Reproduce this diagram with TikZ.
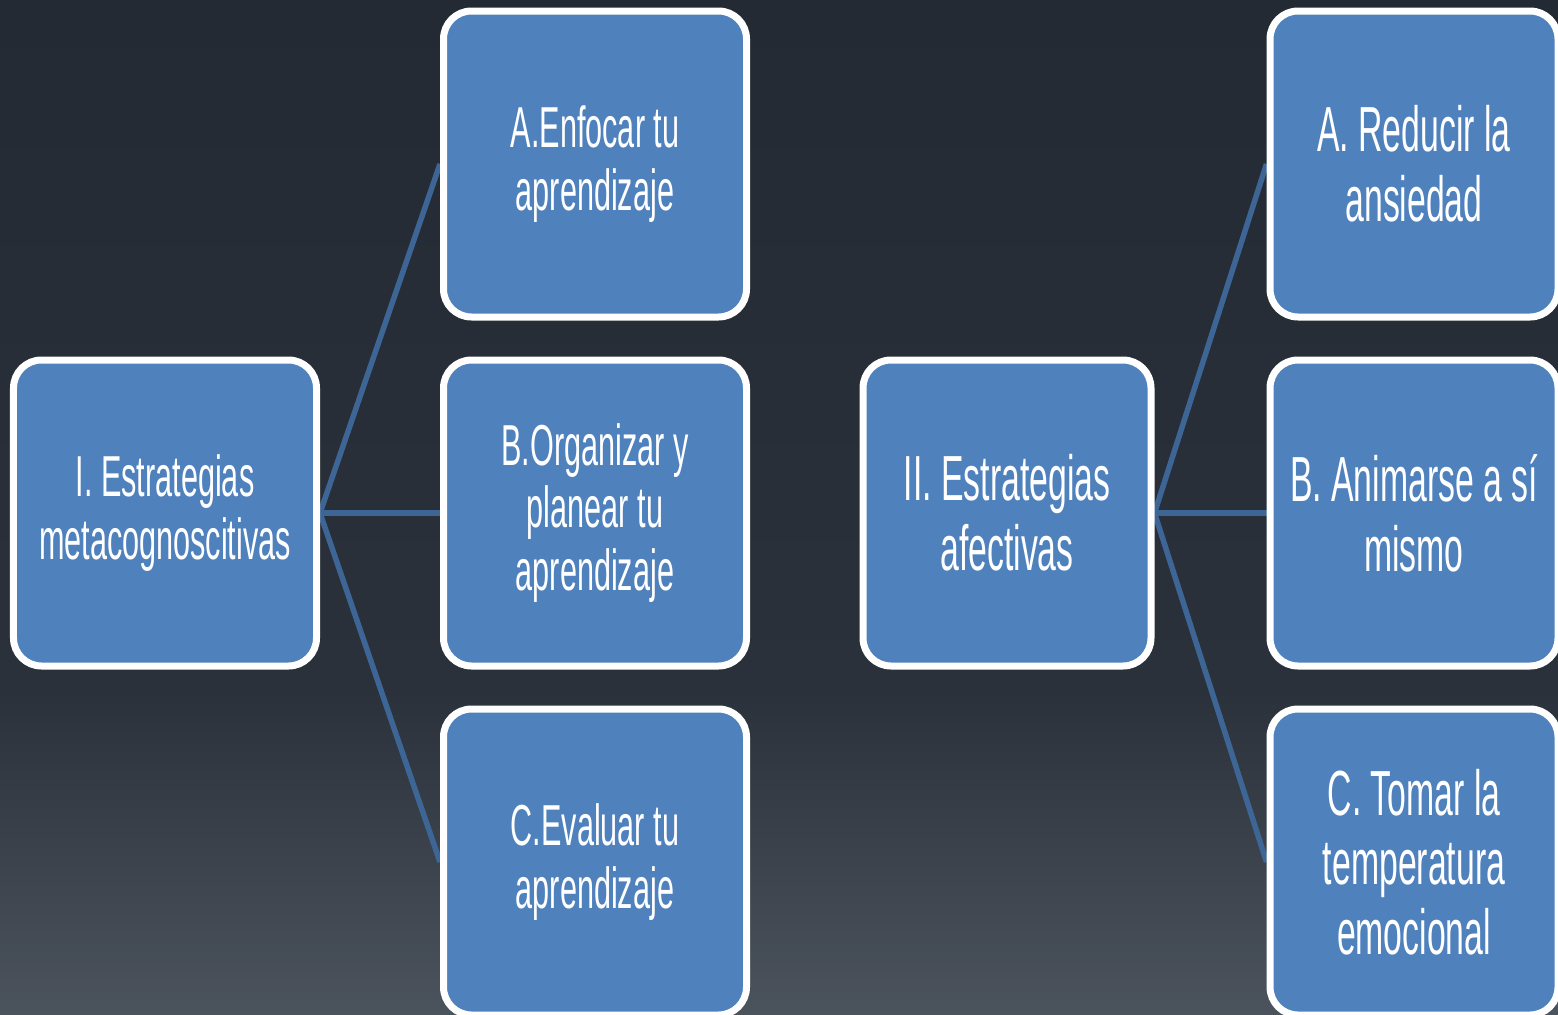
\documentclass[tikz,border=0pt]{standalone}
\usepackage{fontspec}
\usepackage{tikz}
\usepackage{xcolor}
\usetikzlibrary{backgrounds}
\newfontfamily\boxFont[FakeStretch=0.53]{Liberation Sans}
\definecolor{bgColorTop}{HTML}{232A33}
\definecolor{bgColorMid}{HTML}{2A313A}
\definecolor{bgColorBottom}{HTML}{4B535D}
\definecolor{boxFillColor}{HTML}{4F81BD}
\definecolor{boxLineColor}{HTML}{FFFFFF}
\definecolor{boxTextColor}{HTML}{FFFFFF}
\definecolor{linkColor}{HTML}{3D6697}
% the path is fitted to the 25bp..75bp band of the shading
\pgfdeclareverticalshading{bgShade}{100bp}{color(0bp)=(bgColorBottom); color(25bp)=(bgColorBottom); color(41bp)=(bgColorMid); color(75bp)=(bgColorTop); color(100bp)=(bgColorTop)}
\def\textRootA{I. Estrategias\\metacognoscitivas}
\def\textRootB{II. Estrategias\\afectivas}
\def\textLeftA{A.Enfocar tu\\aprendizaje}
\def\textLeftB{B.Organizar y\\planear tu\\aprendizaje}
\def\textLeftC{C.Evaluar tu\\aprendizaje}
\def\textRightA{A. Reducir la\\ansiedad}
\def\textRightB{B. Animarse a sí\\mismo}
\def\textRightC{C. Tomar la\\temperatura\\emocional}
\tikzset{
  stratBox/.style={rectangle, rounded corners=28bp, draw=boxLineColor,
    line width=7bp, fill=boxFillColor, text=boxTextColor, align=center,
    inner sep=0pt, minimum height=306bp},
  wideBox/.style={stratBox, minimum width=303bp,
    font=\boxFont\fontsize{58}{63}\selectfont},
  narrowBox/.style={stratBox, minimum width=288bp,
    font=\boxFont\fontsize{64}{70}\selectfont},
  link/.style={draw=linkColor, line width=5.5bp},
}
\begin{document}
\begin{tikzpicture}[x=1bp,y=-1bp]
\useasboundingbox (0, 0) rectangle (1558, 1014);
\clip (0, 0) rectangle (1558, 1014);

% label layer
\node[wideBox] (rootA) at (165, 513) {\textRootA};
\node[wideBox] (leftA) at (595, 164) {\textLeftA};
\node[wideBox] (leftB) at (595, 513) {\textLeftB};
\node[wideBox] (leftC) at (595, 862) {\textLeftC};

\node[narrowBox] (rootB) at (1007, 513) {\textRootB};
\node[narrowBox] (rightA) at (1414, 164) {\textRightA};
\node[narrowBox] (rightB) at (1414, 513) {\textRightB};
\node[narrowBox] (rightC) at (1414, 862) {\textRightC};

\begin{scope}[on background layer]
% background
\fill[shading=bgShade] (0, 0) rectangle (1558, 1014);

% link layer
\draw[link] (rootA.east) -- (leftA.west);
\draw[link] (rootA.east) -- (leftB.west);
\draw[link] (rootA.east) -- (leftC.west);
\draw[link] (rootB.east) -- (rightA.west);
\draw[link] (rootB.east) -- (rightB.west);
\draw[link] (rootB.east) -- (rightC.west);
\end{scope}
\end{tikzpicture}
\end{document}
